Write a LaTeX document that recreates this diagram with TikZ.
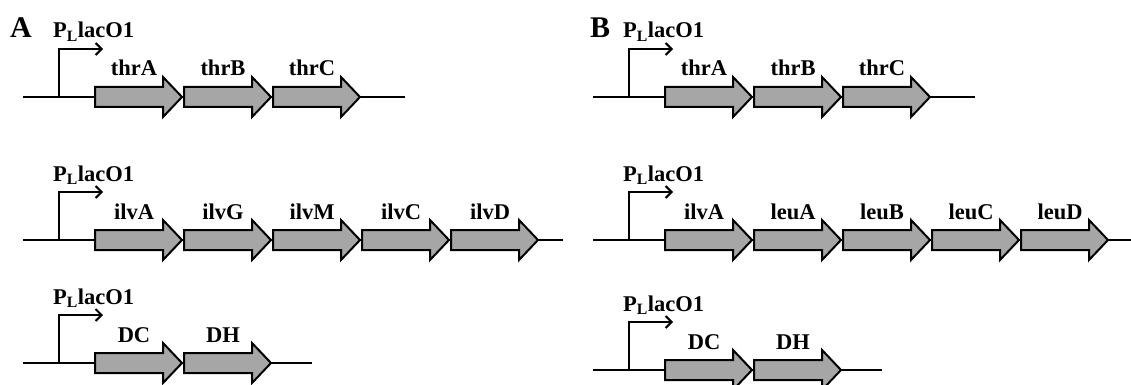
\documentclass[tikz,border=0pt]{standalone}
\usepackage{fontspec}
\setmainfont{Liberation Serif}
\usetikzlibrary{arrows.meta}
\tikzset{
  dna/.style={line width=2pt},
  promoter/.style={line width=2pt, -{Straight Barb[length=6pt,width=12pt]}},
  genelabel/.style={font=\fontsize{22.5}{26}\selectfont\bfseries, anchor=base, inner sep=0pt},
  promlabel/.style={font=\fontsize{22.5}{26}\selectfont\bfseries, anchor=base west, inner sep=0pt},
  panel/.style={font=\fontsize{30}{34}\selectfont\bfseries, anchor=base, inner sep=0pt},
  gene/.pic={
    \draw[line width=2pt, fill=gray!70, line join=miter]
      (0,-10) -- (68,-10) -- (68,-20) -- (87,0) -- (68,20) -- (68,10) -- (0,10) -- cycle;
    \node[genelabel] (-name) at (39,-21) {#1};
  }
}
\begin{document}
\begin{tikzpicture}[x=1pt, y=-1pt]
\clip (0,0) rectangle (1131,385);
\node[panel] (A) at (21,38) {A};
\node[panel] (B) at (600,38) {B};
\foreach \dx/\y/\xend/\genes [count=\r] in {
    0/97/405/{thrA,thrB,thrC},
    0/240/563/{ilvA,ilvG,ilvM,ilvC,ilvD},
    0/363/312/{DC,DH},
    570/97/975/{thrA,thrB,thrC},
    570/240/1131/{ilvA,leuA,leuB,leuC,leuD},
    570/370/882/{DC,DH}} {
  \draw[dna] (\dx+23,\y) coordinate (start\r) -- (\xend,\y) coordinate (end\r);
  \coordinate (prom\r) at (\dx+59,\y);
  \draw[promoter] (prom\r) |- ++(44,-48) coordinate (tss\r);
  \node[promlabel] (plac\r) at ([shift={(-6,-59)}]prom\r) {P\textsubscript{L}lacO1};
  \foreach \g [count=\i] in \genes
    \pic (g\r\i) at ({\dx+95+(\i-1)*89},\y) {gene=\g};
}
\end{tikzpicture}
\end{document}
